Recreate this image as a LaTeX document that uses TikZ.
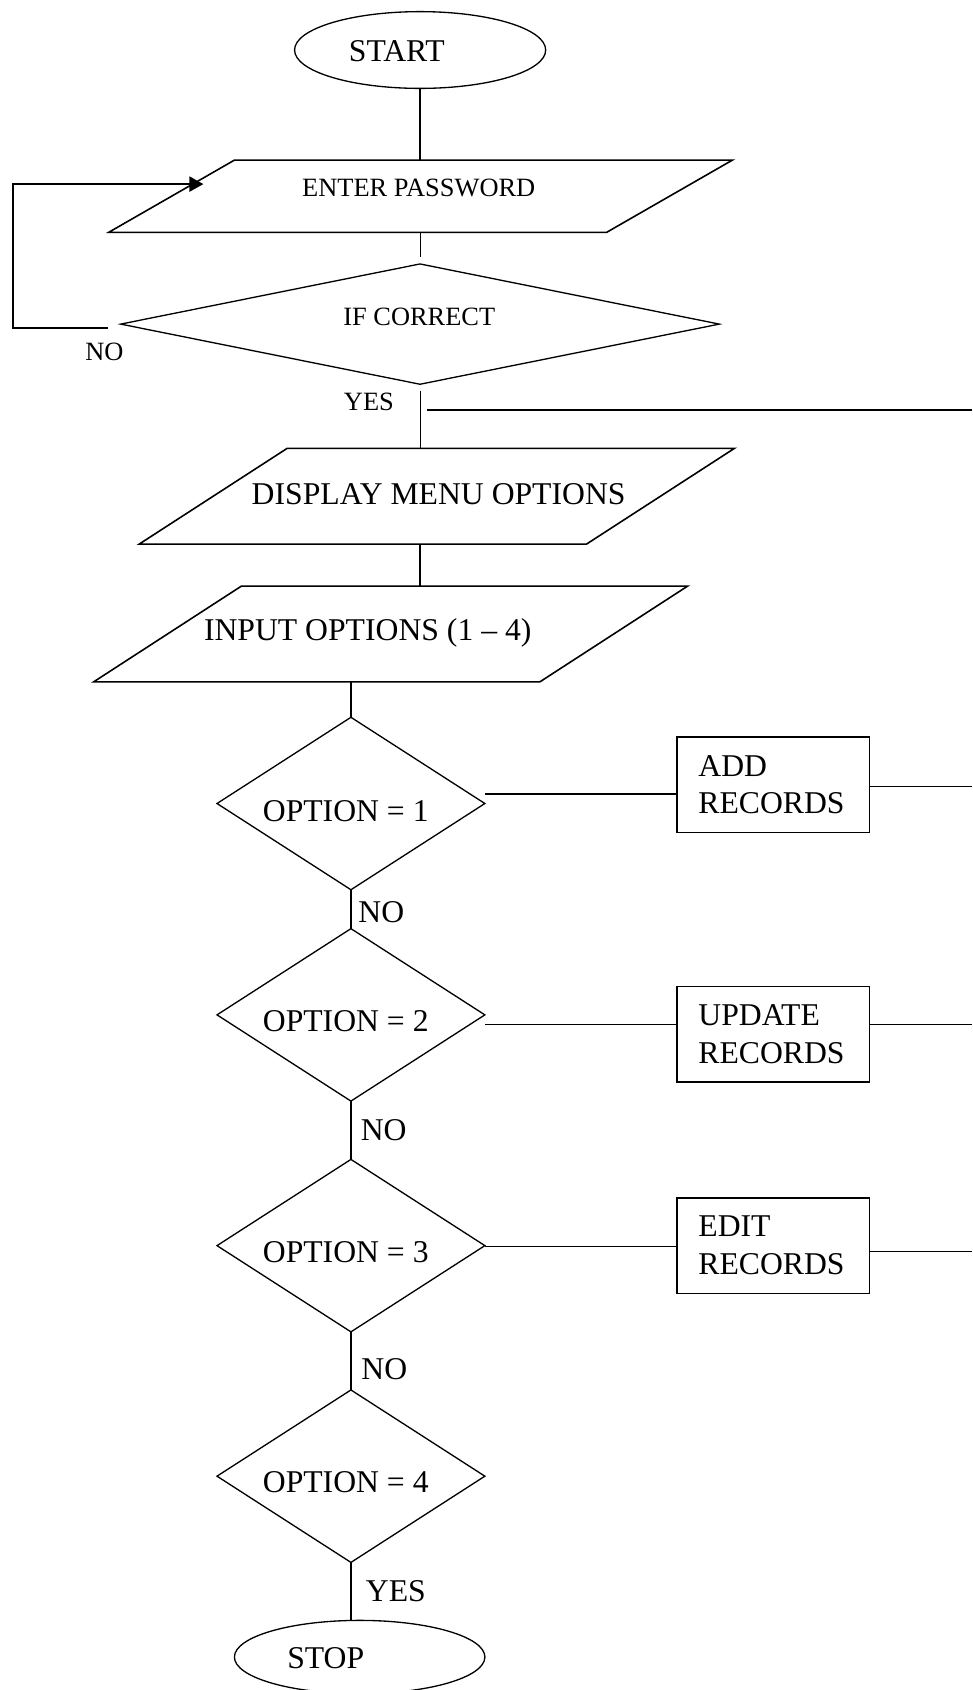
\documentclass[tikz,border=0pt]{standalone}
\usepackage{fontspec}
\setmainfont{Liberation Serif}
\usetikzlibrary{shapes.geometric,arrows.meta}
% drawing unit: one grid step of the layout
\def\upx{0.40816pt}
\begin{document}
\begin{tikzpicture}[x=0.40816pt, y=-0.40816pt,
  flow/.style={draw, line width=0.5pt, inner sep=0pt, outer sep=0pt},
  terminal/.style={flow, ellipse},
  decision/.style={flow, diamond, minimum width=248.5*\upx, minimum height=160*\upx},
  iobox/.style={flow, rectangle, line width=0.6pt},
  procbox/.style={flow, rectangle, line width=0.6pt,
    minimum width=178.4*\upx, minimum height=88.8*\upx},
  link/.style={line width=0.5pt},
  heavy/.style={line width=0.8pt},
  bigtxt/.style={font=\fontsize{12}{14}\selectfont, inner sep=0pt, outer sep=0pt},
  smalltxt/.style={font=\fontsize{10}{12}\selectfont, inner sep=0pt, outer sep=0pt}]

\clip (0,0) rectangle (902,1568);

% ---- shapes ----
\node[terminal, minimum width=233*\upx, minimum height=71.2*\upx] (start) at (389.8,46.4) {};
\node[iobox, minimum width=462*\upx, minimum height=67.1*\upx, xslant=1.741] (pw) at (390.2,182.05) {};
\node[flow, diamond, minimum width=555.4*\upx, minimum height=111.6*\upx] (ifc) at (389.7,300.7) {};
\node[iobox, minimum width=415*\upx, minimum height=88.8*\upx, xslant=1.545] (dm) at (405.3,460.4) {};
\node[iobox, minimum width=414*\upx, minimum height=88.8*\upx, xslant=1.543] (io) at (362.45,588.2) {};

\node[decision] (d1) at (325.6,745.5) {};
\node[decision] (d2) at (325.6,941.6) {};
\node[decision] (d3) at (325.6,1155.7) {};
\node[decision] (d4) at (325.6,1369.6) {};

\node[procbox] (add) at (717.4,728.1) {};
\node[procbox] (upd) at (717.4,959.65) {};
\node[procbox] (edt) at (717.4,1155.65) {};

\node[terminal, minimum width=232.4*\upx, minimum height=68*\upx] (stop) at (333.7,1537.4) {};

% ---- texts ----
\node[bigtxt, anchor=base] (tstart) at (368.2,57.2) {START};
\node[smalltxt, anchor=base] (tpw) at (388.5,182.5) {ENTER PASSWORD};
\node[smalltxt, anchor=base] (tifc) at (389,301.6) {IF CORRECT};
\node[smalltxt, anchor=base] (tno0) at (96.8,334.1) {NO};
\node[smalltxt, anchor=base] (tyes0) at (342.3,380.5) {YES};
\node[bigtxt, anchor=base] (tdm) at (407,467.7) {DISPLAY MENU OPTIONS};
\node[bigtxt, anchor=base] (tio) at (341.2,594) {INPUT OPTIONS (1 – 4)};

\node[bigtxt, anchor=base] (td1) at (320.8,762.5) {OPTION = 1};
\node[bigtxt, anchor=base] (td2) at (320.8,956.7) {OPTION = 2};
\node[bigtxt, anchor=base] (td3) at (320.8,1171.7) {OPTION = 3};
\node[bigtxt, anchor=base] (td4) at (320.8,1384.3) {OPTION = 4};

\node[bigtxt, anchor=base west] (tno1) at (332.5,855.6) {NO};
\node[bigtxt, anchor=base west] (tno2) at (334.8,1058) {NO};
\node[bigtxt, anchor=base west] (tno3) at (335.4,1280) {NO};
\node[bigtxt, anchor=base west] (tyes4) at (339.5,1486.3) {YES};
\node[bigtxt, anchor=base] (tstop) at (302.2,1548.2) {STOP};

\node[bigtxt, anchor=base west] (tadd1) at (648,720.4) {ADD};
\node[bigtxt, anchor=base west] (tadd2) at (648,755) {RECORDS};
\node[bigtxt, anchor=base west] (tupd1) at (648,951.5) {UPDATE};
\node[bigtxt, anchor=base west] (tupd2) at (648,986.3) {RECORDS};
\node[bigtxt, anchor=base west] (tedt1) at (648,1146.8) {EDIT};
\node[bigtxt, anchor=base west] (tedt2) at (648,1182.3) {RECORDS};

% ---- free line ends ----
\coordinate (g1) at (390,238.2);
\coordinate (g2) at (390,362.5);
\coordinate (loopA) at (100.5,304.7);
\coordinate (loopB) at (11.8,170.8);
\coordinate (loopTip) at (188.7,170.8);
\coordinate (yesA) at (396.5,380);
\coordinate (yesB) at (902,380);
\coordinate (addOut) at (902,729.5);
\coordinate (updOut) at (902,950.7);
\coordinate (edtOut) at (902,1160.9);

% ---- connectors ----
\draw[link] (start.south) -- (start.south |- pw.north);
\draw[link] (g1 |- pw.south) -- (g1);
\draw[heavy, -{Triangle[length=5.3pt,width=5.7pt]}] (loopA) -| (loopB) -- (loopTip);
\draw[link] (g2) -- (g2 |- dm.north);
\draw[heavy] (yesA) -- (yesB);
\draw[link] (ifc.south |- dm.south) -- (ifc.south |- io.north);
\draw[link] (d1.north |- io.south) -- (d1.north);
\draw[link] (d1.south) -- (d2.north);
\draw[link] (d2.south) -- (d3.north);
\draw[link] (d3.south) -- (d4.north);
\draw[link] (d4.south) -- (d4.south |- stop.north);

\draw[link] ([yshift=8.9*\upx]d1.east) coordinate (c1) -- (c1 -| add.west);
\draw[link] ([yshift=-9.1*\upx]d2.east) coordinate (c2) -- (c2 -| upd.west);
\draw[link] ([yshift=-1*\upx]d3.east) coordinate (c3) -- (c3 -| edt.west);

\draw[link] (add.east |- addOut) -- (addOut);
\draw[link] (upd.east |- updOut) -- (updOut);
\draw[link] (edt.east |- edtOut) -- (edtOut);
\end{tikzpicture}
\end{document}
